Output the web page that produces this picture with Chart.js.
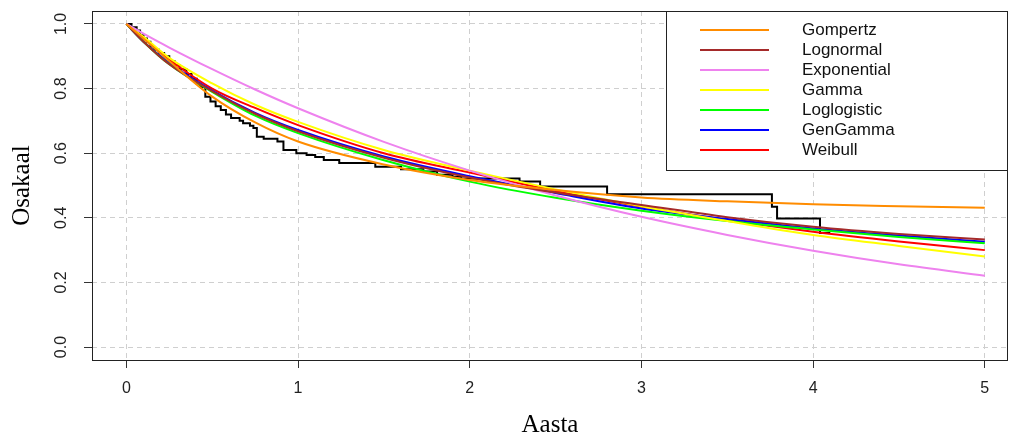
<!DOCTYPE html>
<html>
<head>
<meta charset="utf-8">
<script src="https://cdn.jsdelivr.net/npm/chart.js@4.4.1/dist/chart.umd.min.js"></script>
<style>
  html, body { margin: 0; padding: 0; background: #fff; overflow: hidden; }
  #wrap { width: 1010px; height: 440px; position: relative; }
</style>
</head>
<body>
<div id="wrap"><canvas id="surv"></canvas></div>
<script>
// time grid (years) for the fitted curves
const years = [0, 0.1, 0.25, 0.5, 0.75, 1, 1.5, 2, 2.5, 3, 3.5, 4, 4.5, 5];

// fitted survival curves, one per distribution
const gompertz    = [1, 0.955, 0.885, 0.775, 0.695, 0.636, 0.565, 0.517, 0.486, 0.463, 0.451, 0.442, 0.436, 0.431];
const lognormal   = [1, 0.945, 0.875, 0.792, 0.722, 0.668, 0.586, 0.525, 0.478, 0.440, 0.402, 0.372, 0.350, 0.333];
const exponential = [1, 0.970, 0.927, 0.860, 0.797, 0.739, 0.635, 0.546, 0.469, 0.403, 0.347, 0.298, 0.256, 0.221];
const gamma       = [1, 0.960, 0.895, 0.816, 0.750, 0.697, 0.610, 0.546, 0.488, 0.436, 0.390, 0.347, 0.313, 0.280];
const loglogistic = [1, 0.945, 0.875, 0.790, 0.716, 0.662, 0.578, 0.512, 0.462, 0.422, 0.390, 0.364, 0.341, 0.321];
const gengamma    = [1, 0.945, 0.880, 0.794, 0.725, 0.672, 0.590, 0.529, 0.477, 0.429, 0.396, 0.367, 0.345, 0.326];
const weibull     = [1, 0.955, 0.890, 0.800, 0.740, 0.687, 0.600, 0.540, 0.483, 0.434, 0.393, 0.357, 0.327, 0.300];

// Kaplan-Meier estimate: event times and survival after each drop
const kmTimes = [0, 0.03, 0.06, 0.08, 0.10, 0.12, 0.14, 0.16, 0.19, 0.22, 0.25, 0.28, 0.31, 0.35, 0.38,
  0.41, 0.43, 0.46, 0.49, 0.52, 0.55, 0.58, 0.61, 0.66, 0.68, 0.72, 0.74, 0.76, 0.80, 0.88, 0.915,
  0.99, 1.05, 1.10, 1.15, 1.24, 1.45, 1.60, 1.73, 1.81, 1.90, 1.95, 2.29, 2.41, 2.80, 3.76, 3.79, 4.04, 4.10];
const kmSurv = [1, 0.99, 0.98, 0.965, 0.955, 0.945, 0.93, 0.92, 0.91, 0.90, 0.885, 0.873, 0.86, 0.845, 0.83,
  0.815, 0.805, 0.775, 0.76, 0.745, 0.734, 0.72, 0.709, 0.70, 0.693, 0.685, 0.678, 0.651, 0.645, 0.636, 0.61,
  0.60, 0.594, 0.588, 0.579, 0.57, 0.558, 0.55, 0.543, 0.533, 0.527, 0.522, 0.512, 0.497, 0.473, 0.434, 0.398, 0.353, 0.353];

const xTicks = [0, 1, 2, 3, 4, 5];
const yTicks = [0, 0.2, 0.4, 0.6, 0.8, 1.0];

const curves = [
  { label: 'Gompertz',    color: '#FF8C00', values: gompertz },
  { label: 'Lognormal',   color: '#A52A2A', values: lognormal },
  { label: 'Exponential', color: '#EE82EE', values: exponential },
  { label: 'Gamma',       color: '#FFFF00', values: gamma },
  { label: 'Loglogistic', color: '#00FF00', values: loglogistic },
  { label: 'GenGamma',    color: '#0000FF', values: gengamma },
  { label: 'Weibull',     color: '#FF0000', values: weibull }
];

const pts = (xs, ys) => xs.map((x, i) => ({ x: x, y: ys[i] }));

let datasets = curves.map(c => ({
  label: c.label,
  data: pts(years, c.values),
  borderColor: c.color,
  backgroundColor: c.color,
  borderWidth: 2,
  pointRadius: 0,
  cubicInterpolationMode: 'monotone',
  fill: false
}));
datasets.push({
  label: 'KM',
  data: pts(kmTimes, kmSurv),
  borderColor: '#000',
  borderWidth: 2,
  pointRadius: 0,
  stepped: true,
  fill: false
});

const tickFont = { family: '"Liberation Sans", Arial, sans-serif', size: 16 };
const titleFont = { family: '"Liberation Serif", "Times New Roman", serif', size: 25, lineHeight: 1.2 };

// box round the plot, rotated y labels and the legend
const boxPlugin = {
  id: 'box',
  afterDraw(chart) {
    const c = chart.ctx, a = chart.chartArea, ys = chart.scales.y;
    c.save();
    c.strokeStyle = '#222';
    c.lineWidth = 1;
    c.strokeRect(a.left + 0.5, a.top + 0.5, a.right - a.left - 1, a.bottom - a.top);

    c.fillStyle = '#222';
    c.font = '16px "Liberation Sans", Arial, sans-serif';
    c.textAlign = 'center';
    c.textBaseline = 'middle';
    yTicks.forEach(v => {
      const y = ys.getPixelForValue(v);
      c.save();
      c.translate(62, y);
      c.rotate(-Math.PI / 2);
      c.fillText(v.toFixed(1), 0, 0);
      c.restore();
    });

    // legend
    const lx = 666, ly = a.top, lw = a.right - lx, lh = 160;
    c.fillStyle = '#fff';
    c.fillRect(lx, ly, lw, lh);
    c.strokeStyle = '#222';
    c.strokeRect(lx + 0.5, ly + 0.5, lw - 1, lh - 1);
    c.font = '17px "Liberation Sans", Arial, sans-serif';
    c.textAlign = 'left';
    curves.forEach((cv, i) => {
      const y = ly + 19 + i * 20;
      c.strokeStyle = cv.color;
      c.lineWidth = 2;
      c.beginPath();
      c.moveTo(700, y);
      c.lineTo(769, y);
      c.stroke();
      c.fillStyle = '#111';
      c.fillText(cv.label, 802, y);
    });
    c.restore();
  }
};

new Chart(document.getElementById('surv'), {
  type: 'line',
  data: { datasets: datasets },
  plugins: [boxPlugin],
  options: {
    responsive: true,
    maintainAspectRatio: false,
    animation: false,
    layout: { padding: { top: 11, right: 2, left: 0, bottom: 0 } },
    plugins: { legend: { display: false }, tooltip: { enabled: false } },
    scales: {
      x: {
        type: 'linear',
        min: -0.2,
        max: 5.135,
        afterFit: s => { s.height = 80; },
        afterBuildTicks: s => { s.ticks = xTicks.map(v => ({ value: v })); },
        ticks: { font: tickFont, color: '#222', padding: 11, includeBounds: false,
          callback: v => String(v) },
        grid: { color: '#cfcfcf', tickColor: '#333', tickLength: 8, tickBorderDash: [] },
        border: { display: false, dash: [5, 4] },
        title: { display: true, text: 'Aasta', font: titleFont, color: '#000', padding: { top: 0, bottom: 0 } }
      },
      y: {
        type: 'linear',
        min: -0.04,
        max: 1.04,
        afterFit: s => { s.width = 92; },
        afterBuildTicks: s => { s.ticks = yTicks.map(v => ({ value: v })); },
        ticks: { display: false },
        grid: { color: '#cfcfcf', tickColor: '#333', tickLength: 8, tickBorderDash: [] },
        border: { display: false, dash: [5, 4] },
        title: { display: true, text: 'Osakaal', font: titleFont, color: '#000', padding: { top: 7, bottom: 0 } }
      }
    }
  }
});
</script>
</body>
</html>
